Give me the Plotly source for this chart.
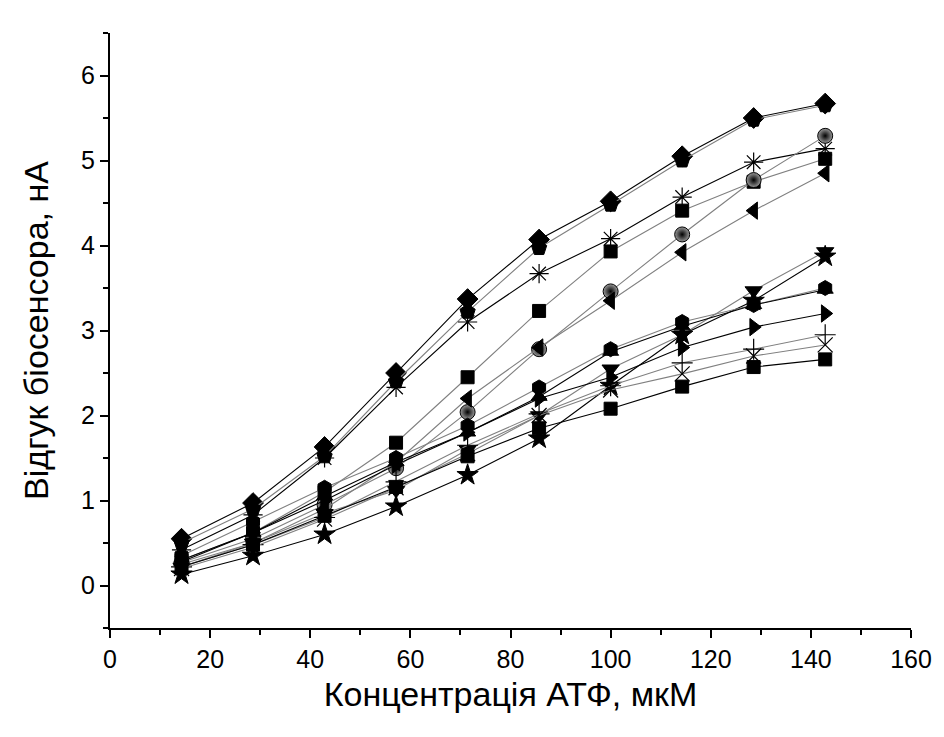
import plotly.graph_objects as go

conc = [14.29, 28.57, 42.86, 57.14, 71.43, 85.71, 100.0, 114.29, 128.57, 142.86]

diamond = [0.55, 0.97, 1.63, 2.50, 3.37, 4.07, 4.52, 5.05, 5.50, 5.67]
pentagon = [0.50, 0.90, 1.52, 2.40, 3.22, 3.97, 4.48, 5.00, 5.48, 5.65]
asterisk = [0.42, 0.83, 1.50, 2.33, 3.10, 3.67, 4.08, 4.57, 4.98, 5.14]
square_hi = [0.30, 0.62, 1.10, 1.68, 2.45, 3.23, 3.93, 4.41, 4.75, 5.02]
sphere = [0.27, 0.55, 0.95, 1.38, 2.04, 2.78, 3.46, 4.13, 4.77, 5.29]
tri_left = [0.25, 0.50, 0.90, 1.45, 2.20, 2.80, 3.35, 3.92, 4.41, 4.85]
tri_down = [0.22, 0.50, 0.85, 1.12, 1.60, 2.00, 2.55, 2.95, 3.47, 3.93]
star = [0.13, 0.35, 0.60, 0.93, 1.30, 1.73, 2.35, 2.95, 3.35, 3.87]
hexagon = [0.35, 0.75, 1.15, 1.50, 1.88, 2.33, 2.78, 3.10, 3.30, 3.50]
tri_up = [0.28, 0.62, 1.05, 1.45, 1.80, 2.22, 2.75, 3.05, 3.30, 3.48]
tri_right = [0.30, 0.62, 1.00, 1.42, 1.80, 2.20, 2.45, 2.80, 3.04, 3.20]
plus = [0.22, 0.48, 0.80, 1.22, 1.65, 2.02, 2.35, 2.62, 2.78, 2.95]
xcross = [0.20, 0.45, 0.78, 1.15, 1.55, 2.00, 2.30, 2.49, 2.70, 2.83]
square_lo = [0.22, 0.48, 0.82, 1.16, 1.52, 1.85, 2.08, 2.34, 2.57, 2.66]

series = [
    (diamond, "diamond", "#000000", 16),
    (pentagon, "pentagon", "#808080", 16),
    (asterisk, "asterisk-open", "#000000", 16),
    (square_hi, "square", "#808080", 13),
    (sphere, "circle", "#808080", 15),
    (tri_left, "triangle-left", "#808080", 15),
    (tri_down, "triangle-down", "#808080", 15),
    (star, "star", "#000000", 16),
    (hexagon, "hexagon", "#808080", 15),
    (tri_up, "triangle-up", "#000000", 14),
    (tri_right, "triangle-right", "#000000", 15),
    (plus, "cross-thin-open", "#808080", 15),
    (xcross, "x-thin-open", "#808080", 15),
    (square_lo, "square", "#000000", 13),
]

fig = go.Figure()
for vals, sym, lc, sz in series:
    marker = dict(symbol=sym, size=sz, color="#000000",
                  line=dict(color="#000000", width=1))
    if sym.endswith("open"):
        marker["line"] = dict(color="#000000", width=1.2)
    if sym == "circle":
        marker = dict(symbol="circle", size=sz, color="#9a9a9a",
                      gradient=dict(type="radial", color="#000000"),
                      line=dict(color="#000000", width=1))
    fig.add_trace(go.Scatter(x=conc, y=vals, mode="lines+markers",
                             line=dict(color=lc, width=1.1),
                             marker=marker, showlegend=False))

axis_font = dict(family="Liberation Sans, Arial, sans-serif", size=25, color="#000000")
title_font = dict(family="Liberation Sans, Arial, sans-serif", size=34, color="#000000")

fig.update_layout(
    width=944, height=737,
    margin=dict(l=110, r=31, t=33, b=109),
    paper_bgcolor="white", plot_bgcolor="white",
    xaxis=dict(range=[0, 160], dtick=20, tick0=0, showgrid=False, zeroline=False,
               showline=True, linecolor="#000000", linewidth=2,
               ticks="outside", ticklen=8, tickwidth=2, tickcolor="#000000",
               minor=dict(dtick=10, ticks="outside", ticklen=5, tickwidth=2, tickcolor="#000000"),
               tickfont=axis_font,
               title=dict(text="Концентрація АТФ, мкМ", font=title_font, standoff=10)),
    yaxis=dict(range=[-0.5, 6.5], dtick=1, tick0=0, showgrid=False, zeroline=False,
               showline=True, linecolor="#000000", linewidth=2,
               ticks="outside", ticklen=8, tickwidth=2, tickcolor="#000000",
               minor=dict(dtick=0.5, ticks="outside", ticklen=5, tickwidth=2, tickcolor="#000000"),
               tickfont=axis_font,
               title=dict(text="Відгук біосенсора, нА", font=title_font, standoff=22)),
)

fig.write_html("out.html")
